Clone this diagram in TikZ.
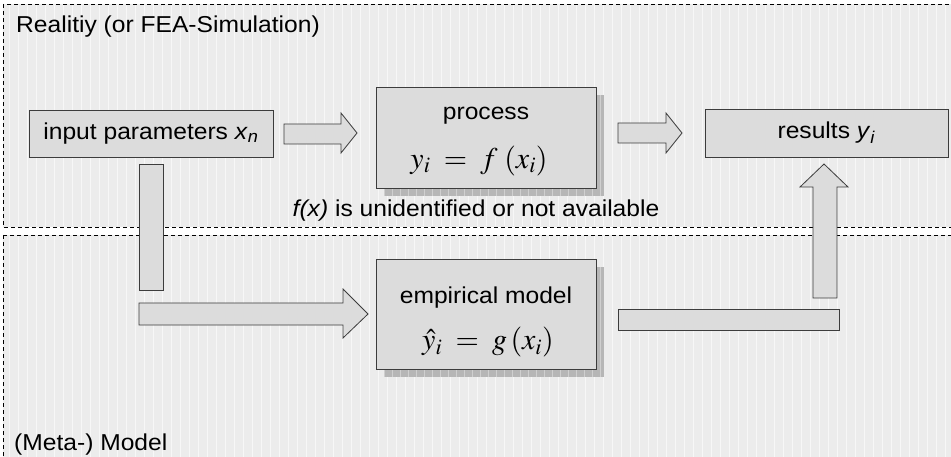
\documentclass[tikz,border=0pt]{standalone}
\usepackage{mathptmx}
\usepackage{fontspec}
\setmainfont{Liberation Sans}[FakeStretch=1.07]
\usetikzlibrary{positioning}
\definecolor{boxgray}{RGB}{220,220,220}
\definecolor{edgegray}{RGB}{60,60,60}
\definecolor{bggray}{RGB}{236,236,236}
\definecolor{shadowgray}{RGB}{182,182,182}

\tikzset{
  blk/.style={draw=edgegray, fill=boxgray, line width=0.8pt},
  region/.style={draw=black, dashed, dash pattern=on 4pt off 3pt, line width=0.6pt, fill=bggray},
  lbl/.style={font=\fontsize{23}{25}\selectfont, inner sep=0pt},
  eq/.style={font=\fontsize{30}{32}\selectfont, inner sep=0pt},
}

\begin{document}
\begin{tikzpicture}[x=1pt,y=-1pt]
  \useasboundingbox (0,0) rectangle (951,457);
  \clip (0,0) rectangle (951,457);

  % the two areas
  \draw [region] (3,4) rectangle (960,227);
  \draw [region] (3,235) rectangle (960,470);
  \draw [white, opacity=0.6, line width=0.8pt, step=9] (4,5) grid (950,226);
  \draw [white, opacity=0.6, line width=0.8pt, step=9] (4,236) grid (950,457);

  \node [lbl, anchor=base west] (real) at (16,33) {Realitiy (or FEA-Simulation)};
  \node [lbl, anchor=base west] (meta) at (14,450) {(Meta-) Model};

  % shadows
  \fill [shadowgray] (384,95) rectangle (604,196);
  \fill [shadowgray] (384,267) rectangle (604,377);
  \draw [white, opacity=0.35, line width=0.6pt, step=8] (384,95) grid (604,196);
  \draw [white, opacity=0.35, line width=0.6pt, step=8] (384,267) grid (604,377);

  % boxes
  \node [blk, lbl, minimum width=244pt, minimum height=47pt] (inp) at (151,133.5)
    {input parameters \textit{x}\textsubscript{\textit{n}}};
  \node [blk, minimum width=220pt, minimum height=101pt] (proc) at (486,137.5) {};
  \node [lbl] (proctxt) at (486,116) {process};
  \node [eq] (proceq) at (479,161) {$y_i \;=\; f\;(x_i)$};
  \node [blk, lbl, minimum width=243pt, minimum height=48pt] (res) at (826.5,133)
    {results \textit{y}\textsubscript{\textit{i}}};
  \node [blk, minimum width=220pt, minimum height=110pt] (emp) at (486,314) {};
  \node [lbl] (emptxt) at (486,298) {empirical model};
  \node [eq] (empeq) at (488,342) {$\hat{y}_i \;=\; g\,(x_i)$};

  \node [lbl, anchor=base] (note) at (476,217) {\textit{f(x)} is unidentified or not available};

  % block arrows
  \draw [blk] (284,124) -- (341,124) -- (341,113) -- (357,133) -- (341,153) -- (341,144) -- (284,144) -- cycle;
  \draw [blk] (618,123) -- (666,123) -- (666,113) -- (682,133) -- (666,153) -- (666,143) -- (618,143) -- cycle;
  \draw [blk] (139,164) rectangle (163,290);
  \draw [blk] (139,303) -- (343,303) -- (343,289) -- (368,314) -- (343,338) -- (343,325) -- (139,325) -- cycle;
  \draw [blk] (618,309) rectangle (839,330);
  \draw [blk] (813,298) -- (813,187) -- (800,187) -- (824,164) -- (848,187) -- (837,187) -- (837,298) -- cycle;
\end{tikzpicture}
\end{document}
